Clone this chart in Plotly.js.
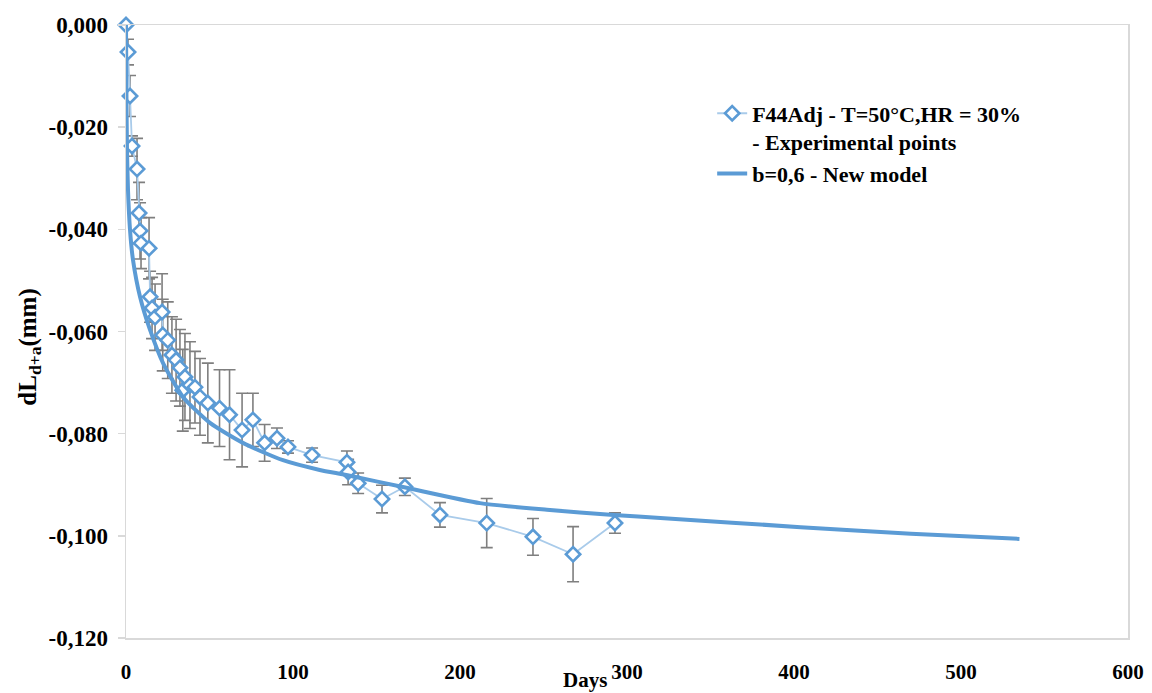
<!DOCTYPE html>
<html>
<head>
<meta charset="utf-8">
<script src="https://cdn.plot.ly/plotly-3.0.1.min.js"></script>
<style>html,body{margin:0;padding:0;background:#fff;}#chart{width:1152px;height:693px;}</style>
</head>
<body>
<div id="chart"></div>
<script>
// Experimental points (days, dL in mm, error half-length)
const expDays = [0, 1.2, 2.4, 3.6, 6.6, 7.8, 8.4, 9, 13.8, 14.4, 15.6, 17.4, 21.6, 22, 25, 27.5, 30, 32.3, 34, 35.3, 38.3, 41.3, 44.3, 49, 56, 62, 69.5, 76, 83, 90.4, 97, 111.4, 132.3, 133, 139, 153.3, 167, 188, 216, 243.7, 267.7, 292.8];
const expValues = [0, -0.0053, -0.0139, -0.0237, -0.0282, -0.0368, -0.0403, -0.0427, -0.0437, -0.0532, -0.0554, -0.0572, -0.0562, -0.0607, -0.0617, -0.0646, -0.0656, -0.0671, -0.0715, -0.0689, -0.0705, -0.0709, -0.0728, -0.0740, -0.0750, -0.0763, -0.0793, -0.0773, -0.0818, -0.0809, -0.0826, -0.0842, -0.0856, -0.0875, -0.0897, -0.0928, -0.0904, -0.0959, -0.0975, -0.1002, -0.1036, -0.0975];
const expErrors = [0, 0.0025, 0.004, 0.002, 0.006, 0.006, 0.0055, 0.005, 0.006, 0.005, 0.006, 0.0065, 0.0075, 0.007, 0.0075, 0.0075, 0.008, 0.0075, 0.008, 0.0085, 0.0085, 0.007, 0.0075, 0.0078, 0.0075, 0.0088, 0.0072, 0.0052, 0.0036, 0.002, 0.0012, 0.0014, 0.0022, 0.0025, 0.002, 0.0027, 0.0017, 0.0024, 0.0048, 0.0036, 0.0054, 0.002];

// Model curve b=0,6
const modelDays = [0, 0.3, 0.6, 1.2, 2.4, 4.2, 8.4, 14.4, 22.2, 34.1, 50.3, 70, 94, 116, 132, 168, 212, 252, 292, 320, 404, 470, 535];
const modelValues = [0, -0.0147, -0.0245, -0.0323, -0.0401, -0.046, -0.0532, -0.0597, -0.0662, -0.0728, -0.0779, -0.0818, -0.0852, -0.0871, -0.0881, -0.0906, -0.0936, -0.0949, -0.0959, -0.0965, -0.0983, -0.0996, -0.1006];

const xTickVals = [0, 100, 200, 300, 400, 500, 600];
const xTickText = ["0", "100", "200", "300", "400", "500", "600"];
const yTickVals = [0, -0.02, -0.04, -0.06, -0.08, -0.10, -0.12];
const yTickText = ["0,000", "-0,020", "-0,040", "-0,060", "-0,080", "-0,100", "-0,120"];

const expName = "F44Adj - T=50°C,HR = 30%<br>- Experimental points";
const modelName = "b=0,6 - New model";

const FONT = "'Liberation Serif', 'Times New Roman', serif";

const traces = [
  {
    x: expDays, y: expValues, name: expName, type: "scatter", mode: "lines+markers",
    line: {color: "#A9CBEA", width: 1.8},
    marker: {symbol: "diamond", size: 11, color: "#ffffff", line: {color: "#5B9BD5", width: 2.6}},
    error_y: {type: "data", array: expErrors, visible: true, color: "#7F7F7F", thickness: 1.6, width: 6},
    cliponaxis: false
  },
  {
    x: modelDays, y: modelValues, name: modelName, type: "scatter", mode: "lines",
    line: {color: "#5B9BD5", width: 4, shape: "spline", smoothing: 0.6},
    cliponaxis: false
  }
];

const layout = {
  width: 1152, height: 693,
  margin: {l: 126, r: 24, t: 25, b: 55},
  paper_bgcolor: "#ffffff", plot_bgcolor: "#ffffff",
  font: {family: FONT, color: "#000000"},
  showlegend: true,
  legend: {
    x: 0.585, y: 0.89, xanchor: "left", yanchor: "top", valign: "top",
    font: {family: FONT, size: 22, weight: "bold", color: "#000000"},
    bgcolor: "rgba(0,0,0,0)"
  },
  xaxis: {
    range: [0, 600], tickmode: "array", tickvals: xTickVals, ticktext: xTickText,
    showgrid: false, zeroline: false, showline: true, mirror: true,
    linecolor: "#D9D9D9", linewidth: 1.5, ticks: "",
    tickfont: {family: FONT, size: 21, weight: "bold", color: "#000000"},
    ticklabelstandoff: 14
  },
  yaxis: {
    range: [-0.12, 0], tickmode: "array", tickvals: yTickVals, ticktext: yTickText,
    showgrid: false, zeroline: false, showline: true, mirror: true,
    linecolor: "#D9D9D9", linewidth: 1.5, ticks: "outside", ticklen: 7, tickcolor: "#D9D9D9", tickwidth: 1.5,
    tickfont: {family: FONT, size: 23, weight: "bold", color: "#000000"},
    ticklabelstandoff: 5
  },
  annotations: [
    {text: "Days", xref: "paper", yref: "paper", x: 0.458, y: -0.069, xanchor: "center", yanchor: "middle",
     showarrow: false, font: {family: FONT, size: 21, weight: "bold", color: "#000000"}},
    {text: "dL<sub>d+a</sub>(mm)", xref: "paper", yref: "paper", x: -0.096, y: 0.475, xanchor: "center", yanchor: "middle",
     textangle: -90, showarrow: false, font: {family: FONT, size: 25, weight: "bold", color: "#000000"}}
  ]
};

Plotly.newPlot("chart", traces, layout, {displayModeBar: false, staticPlot: true});
</script>
</body>
</html>
